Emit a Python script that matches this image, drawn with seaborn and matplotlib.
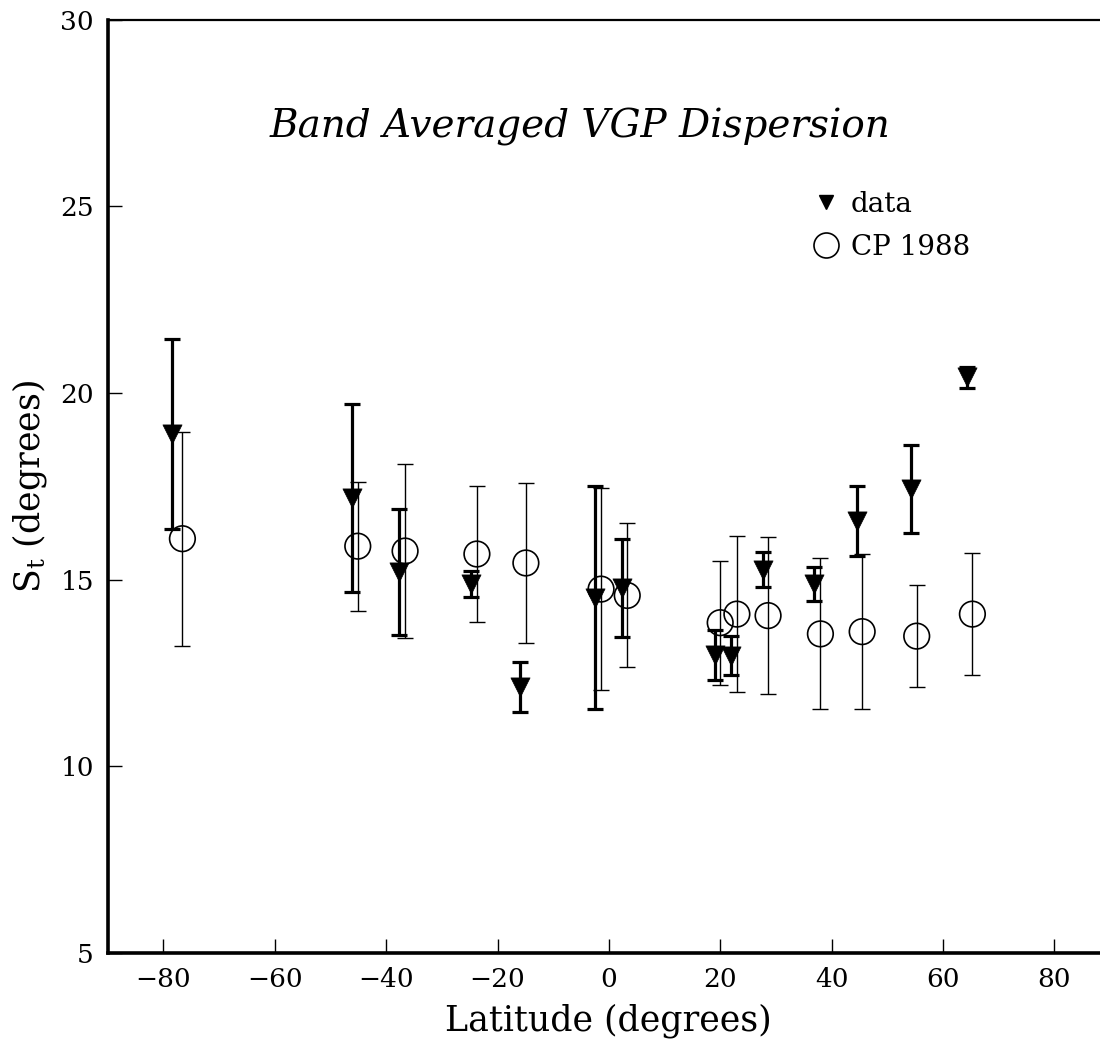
import matplotlib
matplotlib.use("Agg")
import matplotlib.pyplot as plt
import seaborn as sns
import pandas as pd
from matplotlib.lines import Line2D

# observed band-averaged dispersion (triangles, thick error bars)
data_lat = [-78.5, -46.1, -37.7, -24.7, -15.9, -2.4, 2.3, 19.0, 22.0, 27.6, 36.9, 44.5, 54.3, 64.3]
data_st = [18.9, 17.19, 15.21, 14.89, 12.13, 14.52, 14.78, 12.99, 12.97, 15.27, 14.89, 16.58, 17.43, 20.42]
data_err = [2.55, 2.53, 1.68, 0.34, 0.66, 2.98, 1.32, 0.67, 0.53, 0.47, 0.45, 0.94, 1.17, 0.28]

# CP 1988 model (open circles, thin error bars)
cp_lat = [-76.6, -45.1, -36.6, -23.7, -14.9, -1.4, 3.3, 20.0, 23.0, 28.6, 38.0, 45.5, 55.3, 65.3]
cp_st = [16.1, 15.9, 15.77, 15.69, 15.45, 14.75, 14.58, 13.85, 14.08, 14.04, 13.55, 13.61, 13.49, 14.08]
cp_err = [2.87, 1.73, 2.33, 1.82, 2.15, 2.7, 1.93, 1.66, 2.08, 2.11, 2.02, 2.08, 1.37, 1.64]

x_ticks = [-80, -60, -40, -20, 0, 20, 40, 60, 80]
y_ticks = [5, 10, 15, 20, 25, 30]

sns.set_style("ticks")
plt.rcParams["font.family"] = ["DejaVu Serif"]
plt.rcParams["mathtext.fontset"] = "dejavuserif"
plt.rcParams["text.color"] = "black"
plt.rcParams["axes.labelcolor"] = "black"
plt.rcParams["xtick.color"] = "black"
plt.rcParams["ytick.color"] = "black"
plt.rcParams["axes.edgecolor"] = "black"

df_data = pd.DataFrame({"lat": data_lat, "st": data_st})
df_cp = pd.DataFrame({"lat": cp_lat, "st": cp_st})

fig = plt.figure(figsize=(11, 10.45), dpi=100)
ax = fig.add_axes([0.098, 0.088, 0.911, 0.893])

# error bars
ax.errorbar(cp_lat, cp_st, yerr=cp_err, fmt="none", ecolor="black",
            elinewidth=1.0, capsize=5.5, capthick=1.0, zorder=2)
ax.errorbar(data_lat, data_st, yerr=data_err, fmt="none", ecolor="black",
            elinewidth=2.3, capsize=6, capthick=2.3, zorder=3)

# markers
sns.scatterplot(data=df_data, x="lat", y="st", marker="v", s=190,
                color="black", edgecolor="black", linewidth=0.5, ax=ax, zorder=4)
sns.scatterplot(data=df_cp, x="lat", y="st", marker="o", s=340,
                facecolor="none", edgecolor="black", linewidth=1.2, ax=ax, zorder=5)

ax.set_xlim(-90, 90)
ax.set_ylim(5, 30)
ax.set_xticks(x_ticks)
ax.set_yticks(y_ticks)
ax.tick_params(direction="in", length=10, width=1, labelsize=19, pad=10)

for side in ["left", "bottom"]:
    ax.spines[side].set_linewidth(2.6)
ax.spines["top"].set_linewidth(1.6)
ax.spines["right"].set_visible(False)

ax.set_xlabel("Latitude (degrees)", fontsize=25, labelpad=8)
ax.set_ylabel("S$_\\mathrm{t}$ (degrees)", fontsize=25, labelpad=8)

ax.text(0.471, 0.885, "Band Averaged VGP Dispersion", transform=ax.transAxes,
        fontsize=28, style="italic", ha="center", va="center")

handles = [
    Line2D([], [], marker="v", color="black", linestyle="none", markersize=10),
    Line2D([], [], marker="o", markerfacecolor="none", markeredgecolor="black",
           linestyle="none", markersize=18, markeredgewidth=1.2),
]
ax.legend(handles, ["data", "CP 1988"], loc="upper left",
          bbox_to_anchor=(0.689, 0.832), frameon=False, fontsize=20,
          handlelength=1.0, handletextpad=0.4, labelspacing=0.6, borderpad=0)

fig.savefig("out.png", dpi=100)
